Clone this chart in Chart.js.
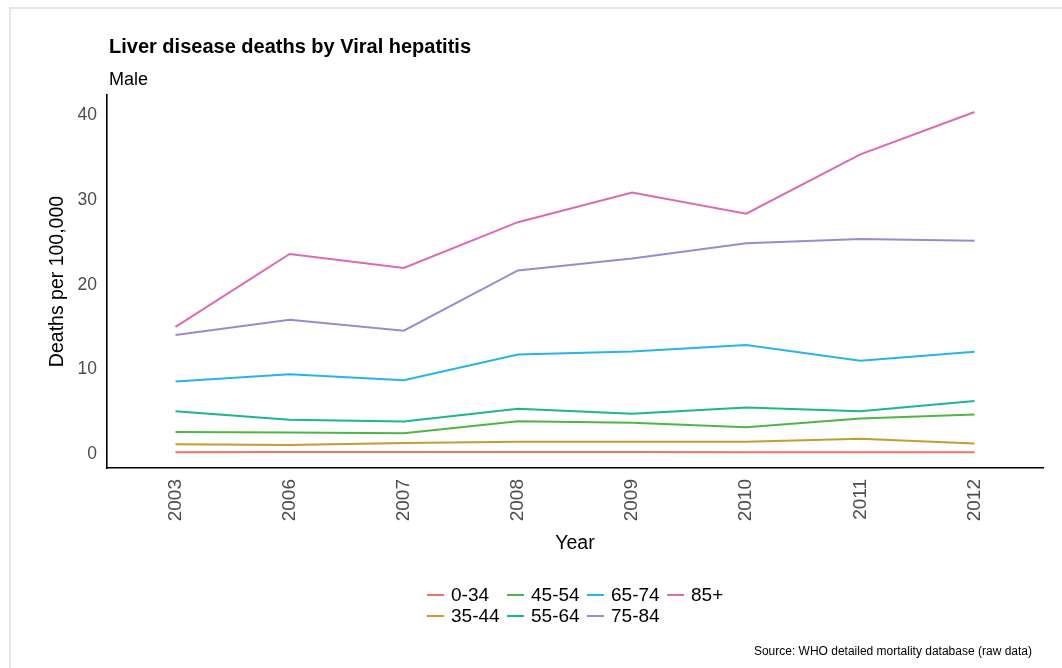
<!DOCTYPE html>
<html>
<head>
<meta charset="utf-8">
<title>Liver disease deaths by Viral hepatitis</title>
<script src="https://cdn.jsdelivr.net/npm/chart.js@4.4.1/dist/chart.umd.min.js"></script>
<style>
  html, body { margin: 0; padding: 0; background: #fff; }
  body { width: 1062px; height: 668px; position: relative; overflow: hidden; font-family: "Liberation Sans", Arial, sans-serif; }
  #frame { position: absolute; left: 9px; top: 7px; width: 1100px; height: 700px; border: 2px solid #e6e6e6; }
  #wrap { position: absolute; left: 0; top: 0; width: 1062px; height: 668px; }
  #title { position: absolute; left: 109px; top: 35px; font-size: 20px; font-weight: bold; color: #000; }
  #subtitle { position: absolute; left: 109px; top: 69px; font-size: 18px; color: #000; }
  #legend { position: absolute; left: 427px; top: 584px; display: grid; grid-template-rows: 21px 21px; grid-template-columns: repeat(4, 80px); grid-auto-flow: column; }
  .item { display: flex; align-items: center; font-size: 19px; color: #000; }
  .key { display: inline-block; width: 17px; height: 2px; margin-right: 7px; }
  #source { position: absolute; right: 30px; top: 644px; font-size: 12px; color: #000; }
</style>
</head>
<body>
<div id="frame"></div>
<div id="wrap"><canvas id="lineChart" width="1062" height="668"></canvas></div>
<div id="title">Liver disease deaths by Viral hepatitis</div>
<div id="subtitle">Male</div>
<div id="legend"></div>
<div id="source">Source: WHO detailed mortality database (raw data)</div>
<script>
// years on the x axis
const years = ["2003", "2006", "2007", "2008", "2009", "2010", "2011", "2012"];
const ageGroups = ["0-34", "35-44", "45-54", "55-64", "65-74", "75-84", "85+"];
const groupColors = ["#F0716B", "#C69B32", "#4FB548", "#1BB78F", "#27B5E8", "#9C8AD0", "#DD69B2"];

// deaths per 100,000
const age0to34 = [0.25, 0.3, 0.3, 0.3, 0.3, 0.25, 0.25, 0.25];
const age35to44 = [1.2, 1.1, 1.35, 1.5, 1.5, 1.5, 1.85, 1.3];
const age45to54 = [2.65, 2.6, 2.5, 3.9, 3.75, 3.2, 4.25, 4.7];
const age55to64 = [5.1, 4.1, 3.9, 5.4, 4.8, 5.55, 5.1, 6.3];
const age65to74 = [8.6, 9.45, 8.75, 11.8, 12.15, 12.9, 11.05, 12.1];
const age75to84 = [14.1, 15.9, 14.6, 21.7, 23.1, 24.9, 25.4, 25.2];
const age85plus = [15.05, 23.65, 22.0, 27.4, 30.9, 28.4, 35.4, 40.4];
const yTicks = [0, 10, 20, 30, 40];

const seriesValues = [age0to34, age35to44, age45to54, age55to64, age65to74, age75to84, age85plus];

const datasets = [];
for (let i = 0; i < ageGroups.length; i++) {
    const pts = [];
    for (let j = 0; j < years.length; j++) {
        pts.push({ x: j, y: seriesValues[i][j] });
    }
    datasets.push({
        label: ageGroups[i],
        data: pts,
        borderColor: groupColors[i],
        backgroundColor: groupColors[i],
        borderWidth: 2,
        pointRadius: 0,
        tension: 0,
        fill: false
    });
}

// legend below the plot, filled column by column like the original
const legendBox = document.getElementById("legend");
for (let i = 0; i < ageGroups.length; i++) {
    const item = document.createElement("div");
    item.className = "item";
    const key = document.createElement("span");
    key.className = "key";
    key.style.background = groupColors[i];
    item.appendChild(key);
    item.appendChild(document.createTextNode(ageGroups[i]));
    legendBox.appendChild(item);
}

const ctx = document.getElementById("lineChart").getContext("2d");
const lineChart = new Chart(ctx, {
    type: "line",
    data: { datasets: datasets },
    options: {
        responsive: false,
        animation: false,
        layout: { padding: { left: 46, right: 19, top: 95, bottom: 113 } },
        plugins: {
            legend: { display: false },
            tooltip: { enabled: false }
        },
        scales: {
            x: {
                type: "linear",
                min: -0.6,
                max: 7.6,
                afterBuildTicks: function(scale) {
                    scale.ticks = years.map((y, i) => ({ value: i }));
                },
                afterFit: function(scale) { scale.height = 87; },
                grid: { display: false, drawTicks: false },
                border: { display: true, color: "#000", width: 1.6 },
                ticks: {
                    autoSkip: false,
                    minRotation: 90,
                    maxRotation: 90,
                    padding: 11,
                    color: "#4d4d4d",
                    font: { family: "Liberation Sans", size: 19 },
                    callback: function(value) { return years[value]; }
                },
                title: {
                    display: true,
                    text: "Year",
                    color: "#000",
                    padding: 0,
                    font: { family: "Liberation Sans", size: 19.5 }
                }
            },
            y: {
                min: -1.6,
                max: 42.4,
                afterBuildTicks: function(scale) {
                    scale.ticks = yTicks.map(v => ({ value: v }));
                },
                afterFit: function(scale) { scale.width = 61; },
                grid: { display: false, drawTicks: false },
                border: { display: true, color: "#000", width: 1.6 },
                ticks: {
                    padding: 10,
                    color: "#4d4d4d",
                    font: { family: "Liberation Sans", size: 17.5 }
                },
                title: {
                    display: true,
                    text: "Deaths per 100,000",
                    color: "#000",
                    padding: 0,
                    font: { family: "Liberation Sans", size: 19.5 }
                }
            }
        }
    }
});
</script>
</body>
</html>
